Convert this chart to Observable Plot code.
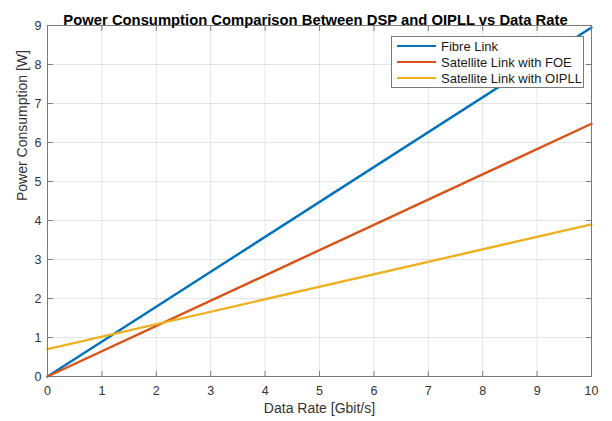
<!DOCTYPE html>
<html>
<head>
<meta charset="utf-8">
<script src="https://cdn.jsdelivr.net/npm/d3@7"></script>
<script src="https://cdn.jsdelivr.net/npm/@observablehq/plot@0.6"></script>
<style>
  html, body { margin: 0; padding: 0; background: #fff; }
  #wrap { position: relative; width: 612px; height: 421px; font-family: "Liberation Sans", Arial, sans-serif; }
  #legend { position: absolute; left: 391px; top: 36px; width: 191px; height: 50px; background: #fff; border: 1px solid #7a7a7a; box-sizing: content-box; }
  .row { position: absolute; left: 0; height: 16px; display: flex; align-items: center; font-size: 13px; color: #1a1a1a; white-space: nowrap; }
  .sw { width: 39px; height: 2.4px; margin-left: 5px; margin-right: 5px; }
</style>
</head>
<body>
<div id="wrap"><div id="legend"></div></div>
<script>
const titleText = "Power Consumption Comparison Between DSP and OIPLL vs Data Rate";
const xLabel = "Data Rate [Gbit/s]";
const yLabel = "Power Consumption [W]";
const dataRate = [0, 10];
const fibreLink = [0, 8.95];
const satelliteFOE = [0, 6.48];
const satelliteOIPLL = [0.7, 3.9];
const seriesNames = ["Fibre Link", "Satellite Link with FOE", "Satellite Link with OIPLL"];
const seriesColors = ["#0072BD", "#D95319", "#EDB120"];
const xTicks = [0, 1, 2, 3, 4, 5, 6, 7, 8, 9, 10];
const yTicks = [0, 1, 2, 3, 4, 5, 6, 7, 8, 9];

const seriesValues = [fibreLink, satelliteFOE, satelliteOIPLL];
const rows = [];
seriesNames.forEach((name, i) => {
  dataRate.forEach((x, j) => rows.push({series: name, x, y: seriesValues[i][j]}));
});

const tickShape = {draw(context, l) { context.moveTo(0, 0); context.lineTo(0, -l); }};
const tickStyle = {length: 5, shape: tickShape, anchor: "start", stroke: "#7a7a7a", strokeWidth: 1};

const chart = Plot.plot({
  width: 612,
  height: 421,
  marginLeft: 47,
  marginRight: 21,
  marginTop: 25,
  marginBottom: 45,
  style: {fontFamily: "'Liberation Sans', Arial, sans-serif", fontSize: "12px", color: "#333", background: "#fff"},
  x: {domain: [0, 10], ticks: xTicks, label: null},
  y: {domain: [0, 9], ticks: yTicks, label: null},
  color: {domain: seriesNames, range: seriesColors},
  marks: [
    Plot.gridX(xTicks, {stroke: "#000", strokeOpacity: 0.1}),
    Plot.gridY(yTicks, {stroke: "#000", strokeOpacity: 0.1}),
    Plot.line(rows, {x: "x", y: "y", z: "series", stroke: "series", strokeWidth: 2.4}),
    Plot.frame({stroke: "#7a7a7a"}),
    Plot.vector(xTicks, {x: d => d, y: 0, rotate: 0, ...tickStyle}),
    Plot.vector(xTicks, {x: d => d, y: 9, rotate: 180, ...tickStyle}),
    Plot.vector(yTicks, {y: d => d, x: 0, rotate: 90, ...tickStyle}),
    Plot.vector(yTicks, {y: d => d, x: 10, rotate: -90, ...tickStyle}),
    Plot.axisX(xTicks, {tickSize: 0, tickPadding: 10, fontSize: 12.5, fill: "#333"}),
    Plot.axisY(yTicks, {tickSize: 0, tickPadding: 6, fontSize: 12.5, fill: "#333"}),
    Plot.text([xLabel], {text: d => d, frameAnchor: "bottom", dy: 36, fontSize: 14, fill: "#333"}),
    Plot.text([yLabel], {text: d => d, frameAnchor: "left", rotate: -90, dx: -25, fontSize: 14, fill: "#333"}),
    Plot.text([titleText], {text: d => d, frameAnchor: "top", dy: -11, dx: -4, fontSize: 14.8, fontWeight: "bold", fill: "#000"})
  ]
});

const wrap = document.getElementById("wrap");
wrap.insertBefore(chart, wrap.firstChild);

const legend = document.getElementById("legend");
seriesNames.forEach((name, i) => {
  const row = document.createElement("div");
  row.className = "row";
  row.style.top = (1 + i * 16) + "px";
  const sw = document.createElement("div");
  sw.className = "sw";
  sw.style.background = seriesColors[i];
  const label = document.createElement("span");
  label.textContent = name;
  row.appendChild(sw);
  row.appendChild(label);
  legend.appendChild(row);
});
</script>
</body>
</html>
